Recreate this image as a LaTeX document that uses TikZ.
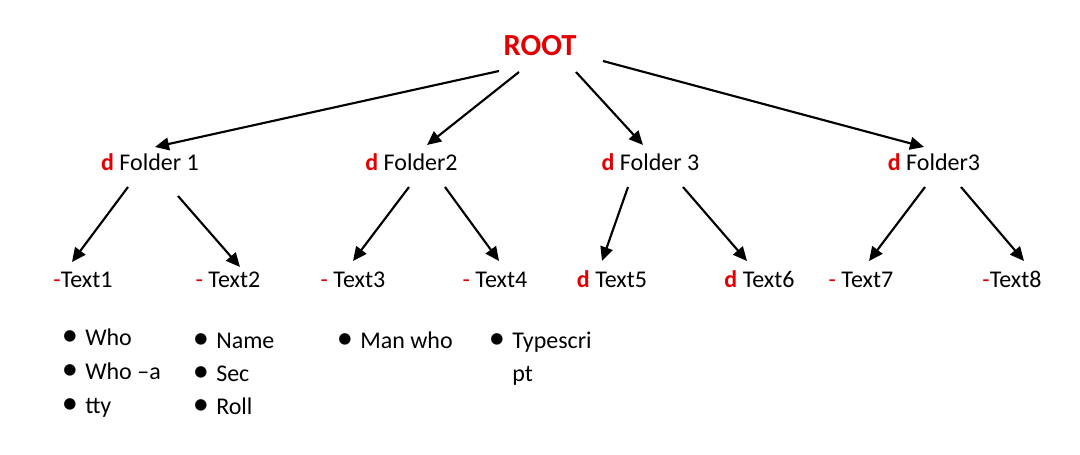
\documentclass[tikz,border=0pt]{standalone}
\usepackage{fontspec}
\setmainfont{Carlito}
\usetikzlibrary{arrows.meta}
\definecolor{dred}{RGB}{228,0,0}
\newcommand{\blt}{\llap{\raisebox{-0.6pt}{\scalebox{1.35}{•}}\hspace{5.5pt}}}
\newcommand{\dmark}{\textcolor{dred}{\textbf{d}}}
\newcommand{\hmark}{\textcolor{dred}{-}}

\begin{document}
\begin{tikzpicture}[x=0.75pt, y=-0.75pt, font=\fontsize{18}{22}\selectfont,
  lbl/.style={anchor=base, inner sep=1pt},
  item/.style={anchor=base west, inner sep=0pt},
  arr/.style={-{Triangle[length=10.5pt, width=9.5pt]}, line width=1.6pt}]
  \useasboundingbox (0,0) rectangle (1080,454);
  % root and folders
  \node[lbl, font=\fontsize{23}{28}\selectfont\bfseries, text=dred] (root) at (540,55) {ROOT};
  \node[lbl] (f1) at (150,170) {\dmark{} Folder 1};
  \node[lbl] (f2) at (411.5,170) {\dmark{} Folder2};
  \node[lbl] (f3) at (650.5,170) {\dmark{} Folder 3};
  \node[lbl] (f4) at (934,170) {\dmark{} Folder3};
  % files
  \node[lbl] (t1) at (83,287) {\hmark Text1};
  \node[lbl] (t2) at (228,287) {\hmark{} Text2};
  \node[lbl] (t3) at (353,287) {\hmark{} Text3};
  \node[lbl] (t4) at (495,287) {\hmark{} Text4};
  \node[lbl] (t5) at (612,287) {\dmark{} Text5};
  \node[lbl] (t6) at (759.5,287) {\dmark{} Text6};
  \node[lbl] (t7) at (861,287) {\hmark{} Text7};
  \node[lbl] (t8) at (1012,287) {\hmark Text8};
  % bullet lists
  \node[item] (who) at (85,345) {\blt Who};
  \node[item] (whoa) at (85,379) {\blt Who –a};
  \node[item] (tty) at (85,413) {\blt tty};
  \node[item] (name) at (216,348) {\blt Name};
  \node[item] (sec) at (216,381) {\blt Sec};
  \node[item] (roll) at (216,414) {\blt Roll};
  \node[item] (man) at (360,348) {\blt Man who};
  \node[item] (type) at (512,348) {\blt Typescri};
  \node[item] (pt) at (512,381) {pt};
  % arrows
  \draw[arr] ([shift={(-41,16)}]root.base) -- ([shift={(5,-23)}]f1.base);
  \draw[arr] ([shift={(-21,17)}]root.base) -- ([shift={(15.5,-25)}]f2.base);
  \draw[arr] ([shift={(36,17)}]root.base) -- ([shift={(-7.5,-25)}]f3.base);
  \draw[arr] ([shift={(63,6)}]root.base) -- ([shift={(-10,-23)}]f4.base);
  \draw[arr] ([shift={(-22,17)}]f1.base) -- ([shift={(-11,-25)}]t1.base);
  \draw[arr] ([shift={(28,26)}]f1.base) -- ([shift={(12,-20)}]t2.base);
  \draw[arr] ([shift={(-2.5,17)}]f2.base) -- ([shift={(0,-26)}]t3.base);
  \draw[arr] ([shift={(33.5,17)}]f2.base) -- ([shift={(4,-26)}]t4.base);
  \draw[arr] ([shift={(-22.5,17)}]f3.base) -- ([shift={(-10,-26)}]t5.base);
  \draw[arr] ([shift={(32.5,17)}]f3.base) -- ([shift={(-12.5,-26)}]t6.base);
  \draw[arr] ([shift={(-9,17)}]f4.base) -- ([shift={(8,-26)}]t7.base);
  \draw[arr] ([shift={(27,17)}]f4.base) -- ([shift={(12,-26)}]t8.base);
\end{tikzpicture}
\end{document}
